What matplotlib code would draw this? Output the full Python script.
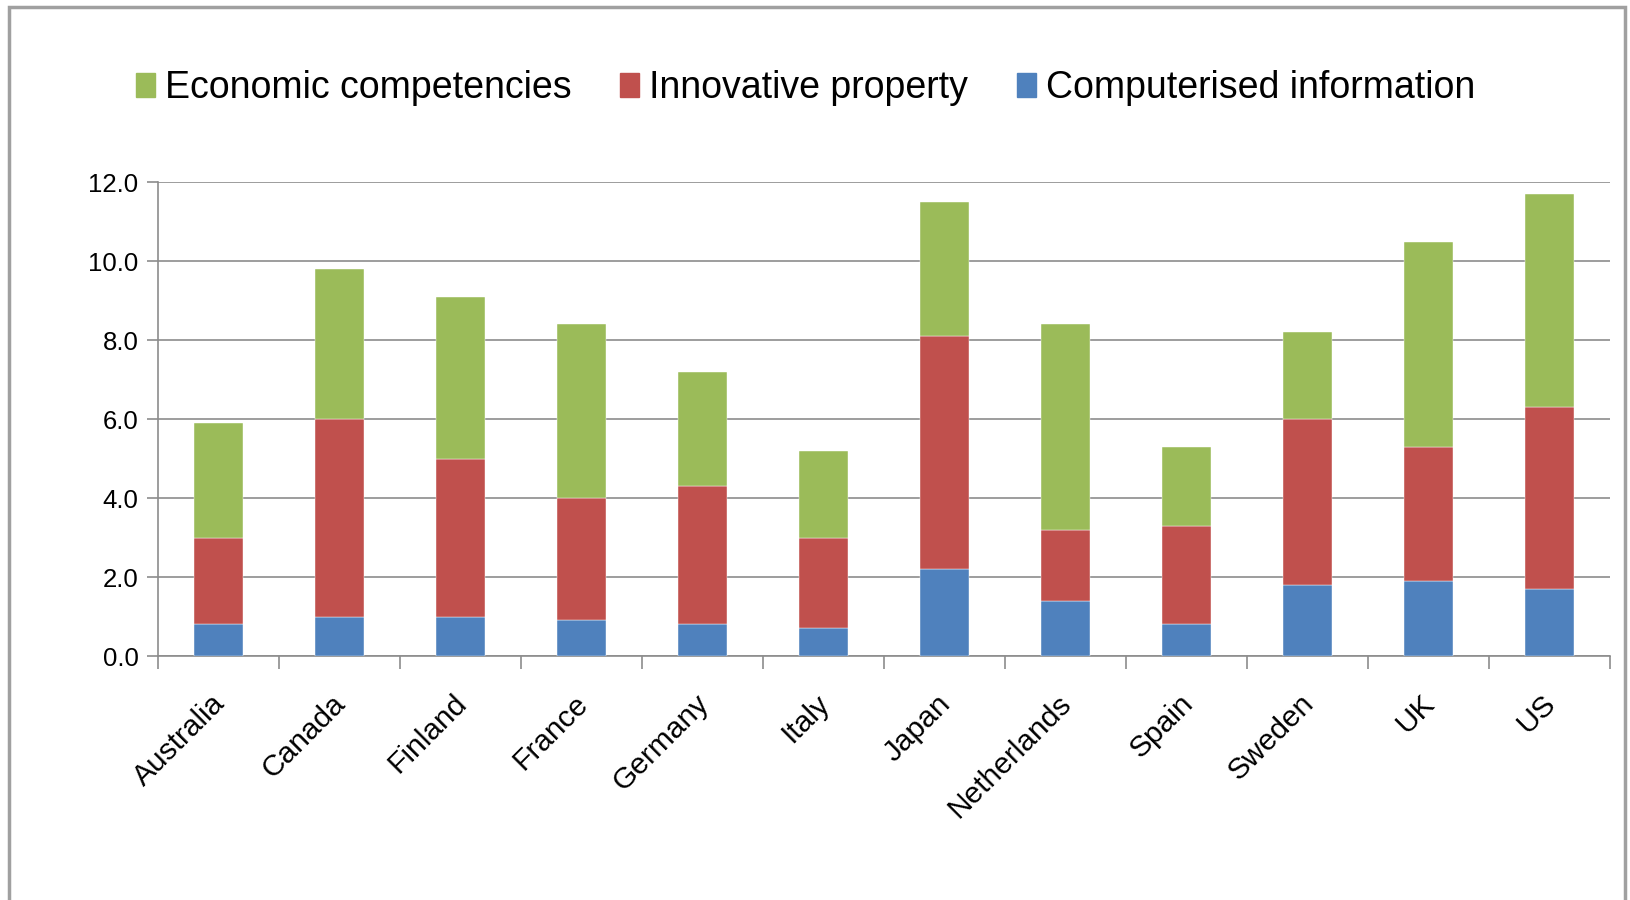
import matplotlib
matplotlib.use("Agg")
import matplotlib.pyplot as plt
from matplotlib.patches import Rectangle, Patch
import numpy as np

plt.rcParams['font.family'] = ['Liberation Sans', 'DejaVu Sans']

countries = ["Australia", "Canada", "Finland", "France", "Germany", "Italy",
             "Japan", "Netherlands", "Spain", "Sweden", "UK", "US"]
computerised = [0.8, 1.0, 1.0, 0.9, 0.8, 0.7, 2.2, 1.4, 0.8, 1.8, 1.9, 1.7]
innovative = [2.2, 5.0, 4.0, 3.1, 3.5, 2.3, 5.9, 1.8, 2.5, 4.2, 3.4, 4.6]
economic = [2.9, 3.8, 4.1, 4.4, 2.9, 2.2, 3.4, 5.2, 2.0, 2.2, 5.2, 5.4]
yticks = [0, 2, 4, 6, 8, 10, 12]

c_blue = "#4F81BD"
c_red = "#C0504D"
c_green = "#9BBB59"
gridc = "#8C8C8C"

W, H = 1631, 900
fig = plt.figure(figsize=(W / 100, H / 100), dpi=100)
ax = fig.add_axes([158 / W, 1 - 656 / H, (1610 - 158) / W, (656 - 182.3) / H])

x = np.arange(len(countries))
comp = np.array(computerised)
inno = np.array(innovative)
econ = np.array(economic)
bw = 0.405
ax.bar(x, comp, bw, color=c_blue, zorder=3, edgecolor='white', linewidth=0.3)
ax.bar(x, inno, bw, bottom=comp, color=c_red, zorder=3, edgecolor='white', linewidth=0.3)
ax.bar(x, econ, bw, bottom=comp + inno, color=c_green, zorder=3, edgecolor='white', linewidth=0.3)

ax.set_xlim(-0.5, len(countries) - 0.5)
ax.set_ylim(0, 12)
ax.set_yticks(yticks)
ax.set_yticklabels([f"{v:.1f}" for v in yticks], fontsize=18.5)
ax.yaxis.grid(True, color=gridc, linewidth=1.2, zorder=0)
ax.tick_params(axis='y', length=8, width=1.2, color=gridc, pad=6)

ax.set_xticks(x)
ax.set_xticklabels(countries, rotation=45, ha='right', va='top',
                   rotation_mode='anchor', fontsize=21.5)
ax.tick_params(axis='x', which='major', length=0, pad=24)
ax.set_xticks(np.arange(len(countries) + 1) - 0.5, minor=True)
ax.tick_params(axis='x', which='minor', length=9, width=1.2, color=gridc)
for lbl in ax.get_xticklabels():
    lbl.set_transform(lbl.get_transform() + matplotlib.transforms.ScaledTranslation(-0.08, 0, fig.dpi_scale_trans))

for s in ['top', 'right']:
    ax.spines[s].set_visible(False)
for s in ['left', 'bottom']:
    ax.spines[s].set_color(gridc)
    ax.spines[s].set_linewidth(1.2)

handles = [Patch(color=c_green), Patch(color=c_red), Patch(color=c_blue)]
labels = ["Economic competencies", "Innovative property", "Computerised information"]
fig.legend(handles, labels, loc='center left', bbox_to_anchor=(136 / W, 1 - 88 / H),
           ncol=3, frameon=False, fontsize=27, handlelength=0.5, handleheight=0.6,
           handletextpad=0.27, columnspacing=1.3, borderaxespad=0, borderpad=0)

fig.add_artist(Rectangle((9 / W, -0.05), (1625 - 9) / W, 1.05 - 7 / H,
                         transform=fig.transFigure, fill=False,
                         edgecolor='#A0A0A0', linewidth=2.5))

fig.savefig("out.png", dpi=100)
